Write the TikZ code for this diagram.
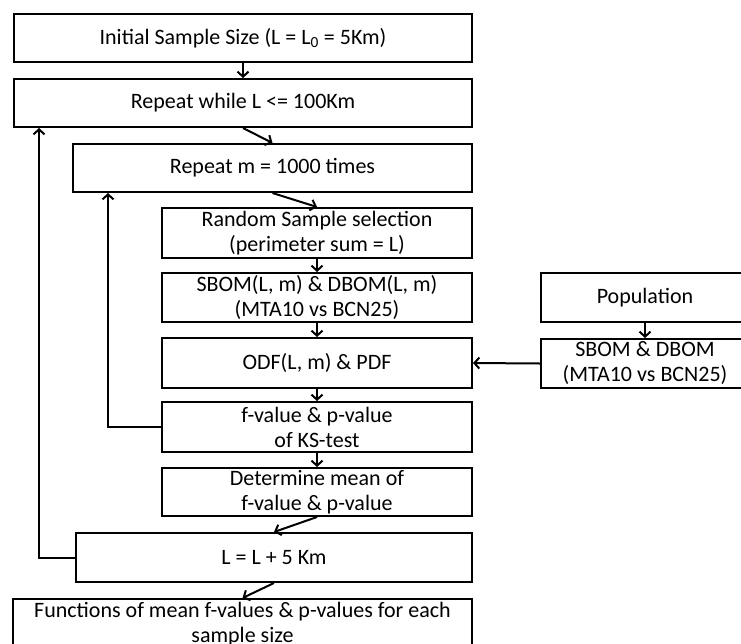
\documentclass[tikz,border=0pt]{standalone}
\usepackage{fontspec}
\setmainfont{Carlito}
\usetikzlibrary{arrows.meta}
\begin{document}
\begin{tikzpicture}[x=1pt,y=-1pt,
  box/.style={draw=black,line width=2pt,fill=white,rectangle,inner sep=0pt,align=center,
    font=\fontsize{22}{25}\selectfont},
  arr/.style={line width=2pt,-{Straight Barb[length=5pt,width=11pt,line width=2pt]}}]
\path[use as bounding box] (0,0) rectangle (741,643);
\clip (0,0) rectangle (741,643);
\node[box,minimum width=458pt,minimum height=48pt] (b1) at (243,38) {Initial Sample Size (L = L\textsubscript{0} = 5Km)};
\node[box,minimum width=458pt,minimum height=48pt] (b2) at (243,103) {Repeat while L <= 100Km};
\node[box,minimum width=399pt,minimum height=48pt] (b3) at (272.5,168) {Repeat m = 1000 times};
\node[box,minimum width=310pt,minimum height=50pt] (b4) at (317,233) {Random Sample selection\\(perimeter sum = L)};
\node[box,minimum width=310pt,minimum height=49pt] (b5) at (317,297.5) {SBOM(L, m) \& DBOM(L, m)\\(MTA10 vs BCN25)};
\node[box,minimum width=310pt,minimum height=50pt] (b6) at (317,363) {ODF(L, m) \& PDF};
\node[box,minimum width=310pt,minimum height=50pt] (b7) at (317,427) {f-value \& p-value\\of KS-test};
\node[box,minimum width=310pt,minimum height=48pt] (b8) at (317,492) {Determine mean of\\f-value \& p-value};
\node[box,minimum width=396pt,minimum height=49pt] (b9) at (274,557.5) {L = L + 5 Km};
\node[box,minimum width=459pt,minimum height=50pt] (b10) at (242.5,624) {Functions of mean f-values \& p-values for each\\sample size};
\node[box,minimum width=208pt,minimum height=49pt] (p1) at (645,297.5) {Population};
\node[box,minimum width=208pt,minimum height=49pt] (p2) at (645,363.5) {SBOM \& DBOM\\(MTA10 vs BCN25)};
\coordinate (outx) at (39,0);
\coordinate (inx) at (108,0);
\draw[arr] (b1.south) -- (b2.north);
\draw[arr] (b2.south) -- (b3.north);
\draw[arr] (b3.south) -- (b4.north);
\draw[arr] (b4.south) -- (b5.north);
\draw[arr] (b5.south) -- (b6.north);
\draw[arr] (b6.south) -- (b7.north);
\draw[arr] (b7.south) -- (b8.north);
\draw[arr] (b8.south) -- (b9.north);
\draw[arr] (b9.south) -- (b10.north);
\draw[arr] (p1.south) -- (p2.north);
\draw[arr] (p2.west) -- (b6.east);
\draw[arr] (b7.west) -| (b3.south -| inx);
\draw[arr] (b9.west) -| (b2.south -| outx);
\end{tikzpicture}
\end{document}
